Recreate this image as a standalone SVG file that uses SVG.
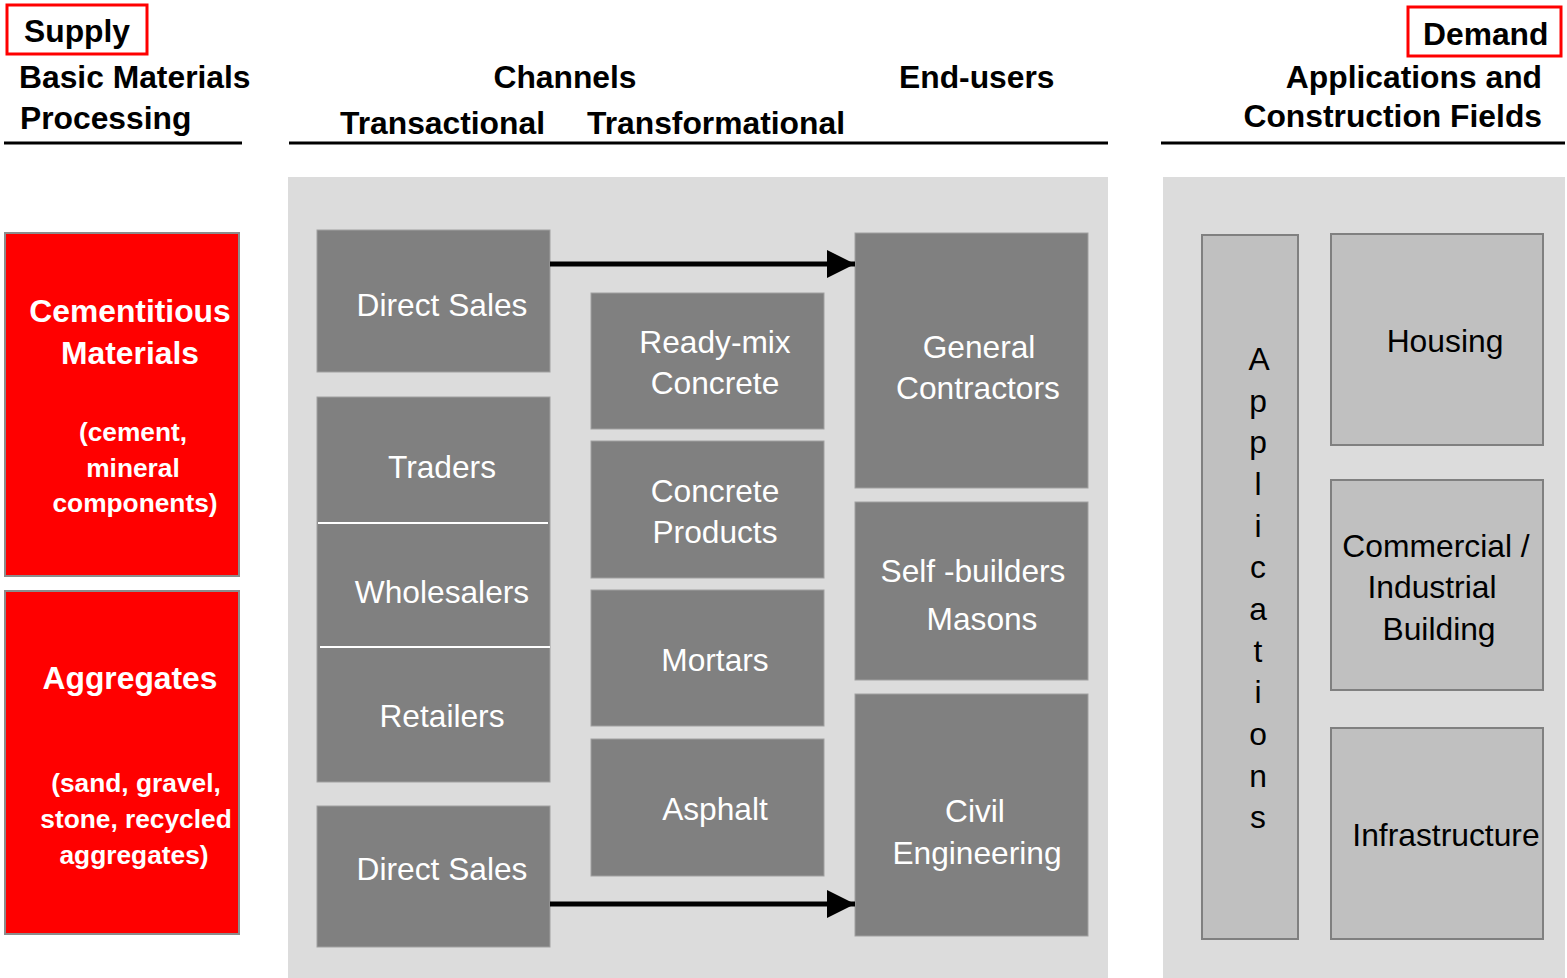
<svg xmlns="http://www.w3.org/2000/svg" width="1567" height="978" viewBox="0 0 1567 978">
<style>
.hd{font-family:"Liberation Sans",Arial,sans-serif;font-weight:bold;font-size:31.8px;fill:#000}
.rl{stroke:#000;stroke-width:3}
.panel{fill:#dcdcdc}
.red{fill:#ff0000;stroke:#8c8c8c;stroke-width:2}
.rt{font-family:"Liberation Sans",Arial,sans-serif;font-weight:bold;fill:#fff;text-anchor:middle}
.dk{fill:#808080;stroke:#a0a0a0;stroke-width:1}
.wt{font-family:"Liberation Sans",Arial,sans-serif;font-size:31.7px;fill:#fff;text-anchor:middle}
.lt{fill:#c0c0c0;stroke:#808080;stroke-width:2}
.bt{font-family:"Liberation Sans",Arial,sans-serif;font-size:31.8px;fill:#000;text-anchor:middle}
.conn{stroke:#000;stroke-width:5;fill:none}
</style>
<defs>
<marker id="ah" markerUnits="userSpaceOnUse" markerWidth="30" markerHeight="30" refX="28" refY="14" orient="auto">
<path d="M0,0 L28,14 L0,28 Z" fill="#000"/>
</marker>
</defs>
<rect width="1567" height="978" fill="#fff"/>
<g id="headers">
<rect x="7" y="5" width="140" height="49" fill="none" stroke="#ff0000" stroke-width="3"/>
<text class="hd" x="24" y="42" font-size="32">Supply</text>
<text class="hd" x="19" y="88">Basic Materials</text>
<text class="hd" x="20" y="129">Processing</text>
<line class="rl" x1="4" y1="143" x2="242" y2="143"/>
<text class="hd" x="565" y="88" text-anchor="middle">Channels</text>
<text class="hd" x="899" y="88">End-users</text>
<text class="hd" x="340" y="134">Transactional</text>
<text class="hd" x="587" y="134">Transformational</text>
<line class="rl" x1="289" y1="143" x2="1108" y2="143"/>
<rect x="1408" y="7" width="153" height="49" fill="none" stroke="#ff0000" stroke-width="3"/>
<text class="hd" x="1423" y="45" font-size="32.5">Demand</text>
<text class="hd" x="1542" y="88" text-anchor="end">Applications and</text>
<text class="hd" x="1542" y="127" text-anchor="end">Construction Fields</text>
<line class="rl" x1="1161" y1="143" x2="1565" y2="143"/>
</g>
<rect class="panel" x="288" y="177" width="820" height="801"/>
<rect class="panel" x="1163" y="177" width="402" height="801"/>
<g id="cementitious">
<rect class="red" x="5" y="233" width="234" height="343"/>
<text class="rt" font-size="31.8" x="130" y="322">Cementitious</text>
<text class="rt" font-size="31.8" x="130" y="364">Materials</text>
<text class="rt" font-size="26.3" x="133" y="441">(cement,</text>
<text class="rt" font-size="26.3" x="133" y="477">mineral</text>
<text class="rt" font-size="26.3" x="135" y="512">components)</text>
</g>
<g id="aggregates">
<rect class="red" x="5" y="591" width="234" height="343"/>
<text class="rt" font-size="31.8" x="130" y="689">Aggregates</text>
<text class="rt" font-size="26.3" x="136" y="792">(sand, gravel,</text>
<text class="rt" font-size="26.3" x="136" y="828">stone, recycled</text>
<text class="rt" font-size="26.3" x="134" y="864">aggregates)</text>
</g>
<g id="direct-sales-1">
<rect class="dk" x="317" y="230" width="233" height="142"/>
<text class="wt" x="442" y="316">Direct Sales</text>
</g>
<g id="traders-wholesalers-retailers">
<rect class="dk" x="317" y="397" width="233" height="385"/>
<line x1="318" y1="523" x2="548" y2="523" stroke="#fff" stroke-width="2"/>
<line x1="320" y1="647" x2="550" y2="647" stroke="#fff" stroke-width="2"/>
<text class="wt" x="442" y="478">Traders</text>
<text class="wt" x="442" y="603">Wholesalers</text>
<text class="wt" x="442" y="727">Retailers</text>
</g>
<g id="direct-sales-2">
<rect class="dk" x="317" y="806" width="233" height="141"/>
<text class="wt" x="442" y="880">Direct Sales</text>
</g>
<g id="ready-mix">
<rect class="dk" x="591" y="293" width="233" height="136"/>
<text class="wt" x="715" y="353">Ready-mix</text>
<text class="wt" x="715" y="394">Concrete</text>
</g>
<g id="concrete-products">
<rect class="dk" x="591" y="441" width="233" height="137"/>
<text class="wt" x="715" y="502">Concrete</text>
<text class="wt" x="715" y="543">Products</text>
</g>
<g id="mortars">
<rect class="dk" x="591" y="590" width="233" height="136"/>
<text class="wt" x="715" y="671">Mortars</text>
</g>
<g id="asphalt">
<rect class="dk" x="591" y="739" width="233" height="137"/>
<text class="wt" x="715" y="820">Asphalt</text>
</g>
<g id="general-contractors">
<rect class="dk" x="855" y="233" width="233" height="255"/>
<text class="wt" x="979" y="358">General</text>
<text class="wt" x="978" y="399">Contractors</text>
</g>
<g id="self-builders">
<rect class="dk" x="855" y="502" width="233" height="178"/>
<text class="wt" x="973" y="582">Self -builders</text>
<text class="wt" x="982" y="630">Masons</text>
</g>
<g id="civil-engineering">
<rect class="dk" x="855" y="694" width="233" height="242"/>
<text class="wt" x="975" y="822">Civil</text>
<text class="wt" x="977" y="864">Engineering</text>
</g>
<g id="applications">
<rect class="lt" x="1202" y="235" width="96" height="704"/>
<g class="bt" font-size="30">
<text x="1259" y="370">A</text>
<text x="1258" y="412">p</text>
<text x="1258" y="453">p</text>
<text x="1258" y="495">l</text>
<text x="1258" y="537">i</text>
<text x="1258" y="578">c</text>
<text x="1258" y="620">a</text>
<text x="1258" y="662">t</text>
<text x="1258" y="703">i</text>
<text x="1258" y="745">o</text>
<text x="1258" y="787">n</text>
<text x="1258" y="828">s</text>
</g>
</g>
<g id="housing">
<rect class="lt" x="1331" y="234" width="212" height="211"/>
<text class="bt" x="1445" y="352">Housing</text>
</g>
<g id="commercial">
<rect class="lt" x="1331" y="480" width="212" height="210"/>
<text class="bt" x="1436" y="557">Commercial /</text>
<text class="bt" x="1432" y="598">Industrial</text>
<text class="bt" x="1439" y="640">Building</text>
</g>
<g id="infrastructure">
<rect class="lt" x="1331" y="728" width="212" height="211"/>
<text class="bt" x="1446" y="846">Infrastructure</text>
</g>
<g id="connectors">
<line class="conn" x1="550" y1="264" x2="855" y2="264" marker-end="url(#ah)"/>
<line class="conn" x1="550" y1="904" x2="855" y2="904" marker-end="url(#ah)"/>
</g>
</svg>
